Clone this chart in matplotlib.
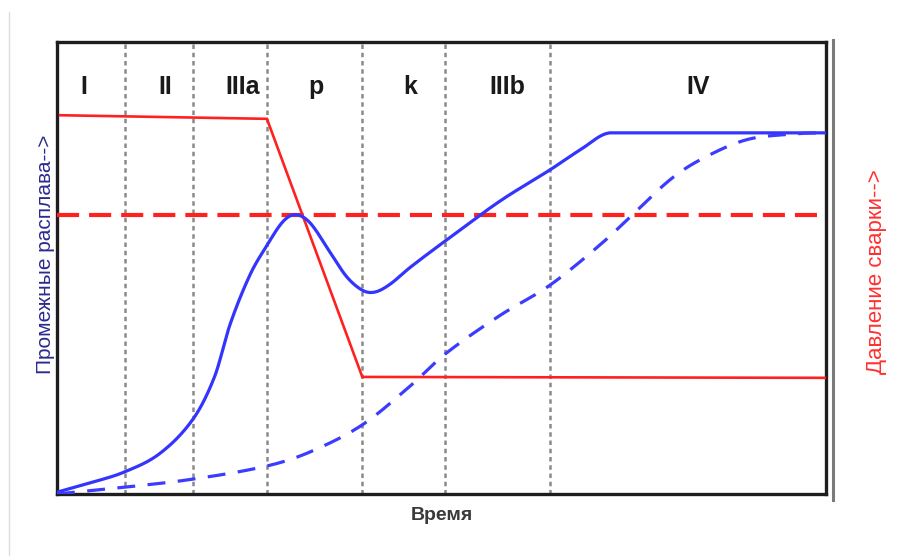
import matplotlib
matplotlib.use("Agg")
import matplotlib.pyplot as plt
from matplotlib.lines import Line2D
import numpy as np

# Phase boundaries (time units, 0..100)
boundaries = [8.8, 17.7, 27.3, 39.7, 50.5, 64.1]
phase_labels = ["I", "II", "IIIa", "p", "k", "IIIb", "IV"]
phase_label_x = [3.5, 14.1, 24.2, 33.7, 45.9, 58.5, 83.4]

# Welding pressure (solid red)
press_t = [0.4, 27.3, 39.7, 100]
press_v = [83.8, 83.0, 25.9, 25.7]
# Nominal pressure (dashed red)
nominal_v = 61.7

# Melt (solid blue): rising part, then plateau
melt_t = [0, 4.4, 8.8, 13.4, 17.7, 20.5, 22.5, 25.1, 27.3, 29.4, 31.0, 32.9, 35.5, 37.7,
          39.8, 41.4, 43.3, 45.9, 50.5, 57.6, 64.1, 68.0, 71.9]
melt_v = [0.4, 2.5, 4.9, 9.0, 16.6, 26.0, 37.5, 48.5, 55.0, 60.3, 61.8, 60.0, 53.5, 48.0,
          45.0, 44.7, 46.4, 50.1, 56.0, 64.8, 71.7, 76.1, 79.9]
melt_plateau_t = [71.9, 100]
melt_plateau_v = [79.9, 79.9]

# Displacement (dashed blue)
disp_t = [0, 8.8, 17.7, 27.3, 32.9, 39.7, 46.0, 50.5, 57.6, 64.1, 70.6, 74.8, 79.7, 83.6,
          89.5, 95.3, 100]
disp_v = [0, 1.5, 3.3, 6.2, 9.3, 15.3, 24.0, 31.0, 39.5, 46.2, 55.1, 61.7, 69.5, 73.9,
          78.3, 79.6, 79.9]

W, H = 903, 556
fig = plt.figure(figsize=(W / 100, H / 100), dpi=100)
fig.patch.set_facecolor("white")
ax = fig.add_axes([57 / W, 1 - 494 / H, (826 - 57) / W, (494 - 42) / H])
ax.set_xlim(0, 100)
ax.set_ylim(0, 100)

for b in boundaries:
    ax.axvline(b, color="#8a8a8a", lw=1.8, ls=(0, (1.8, 1.5)), zorder=1)

for lbl, x in zip(phase_labels, phase_label_x):
    ax.text(x, 90.0, lbl, ha="center", va="center", fontsize=18,
            fontweight="bold", color="#1a1a1a", family="Liberation Sans")


def smooth(tx, vy, end_slope=None, per_seg=40):
    """Cubic Hermite through the points with finite-difference tangents."""
    tx = np.asarray(tx, float)
    vy = np.asarray(vy, float)
    n = len(tx)
    m = np.zeros(n)
    for i in range(1, n - 1):
        m[i] = (vy[i + 1] - vy[i - 1]) / (tx[i + 1] - tx[i - 1])
    m[0] = (vy[1] - vy[0]) / (tx[1] - tx[0])
    m[-1] = (vy[-1] - vy[-2]) / (tx[-1] - tx[-2]) if end_slope is None else end_slope
    xs, ys = [], []
    for i in range(n - 1):
        h = tx[i + 1] - tx[i]
        s = np.linspace(0, 1, per_seg, endpoint=(i == n - 2))
        h00 = 2 * s**3 - 3 * s**2 + 1
        h10 = s**3 - 2 * s**2 + s
        h01 = -2 * s**3 + 3 * s**2
        h11 = s**3 - s**2
        xs.append(tx[i] + s * h)
        ys.append(h00 * vy[i] + h10 * h * m[i] + h01 * vy[i + 1] + h11 * h * m[i + 1])
    return np.concatenate(xs), np.concatenate(ys)


ax.plot(press_t, press_v, color="#ff2020", lw=1.9, zorder=3, solid_joinstyle="miter")
ax.axhline(nominal_v, color="#ff2020", lw=3.0, ls=(0, (5.3, 2.4)), zorder=3)

mt, mv = smooth(melt_t, melt_v, end_slope=0.15)
mt = np.concatenate([mt, melt_plateau_t[1:]])
mv = np.concatenate([mv, melt_plateau_v[1:]])
ax.plot(mt, mv, color="#3434ff", lw=2.3, zorder=4)
dt, dv = smooth(disp_t, disp_v, end_slope=0.0)
ax.plot(dt, dv, color="#3c3cff", lw=2.3, ls=(0, (5.6, 3.9)), zorder=4)

ax.set_xticks([])
ax.set_yticks([])
for s in ax.spines.values():
    s.set_color("#1e1e1e")
    s.set_linewidth(2.4)

ax.set_xlabel("Время", fontsize=14, fontweight="bold", color="#3a3a3a",
              family="Liberation Sans", labelpad=9)
fig.text(46 / W, 1 - 254 / H, "Промежные расплава-->", rotation=90, ha="center",
         va="center", fontsize=15, color="#2a2a90", family="Liberation Sans")
fig.text(877 / W, 1 - 272 / H, "Давление сварки-->", rotation=90, ha="center",
         va="center", fontsize=16, color="#ff3030", family="Liberation Sans")

# Extra frame line on the right and the page edge line
fig.add_artist(Line2D([833 / W, 833 / W], [1 - 500 / H, 1 - 40 / H],
                      color="#7a7a7a", lw=2.2))
fig.add_artist(Line2D([9.5 / W, 9.5 / W], [0, 1 - 12 / H],
                      color="#dddddd", lw=1.0))

fig.savefig("out.png", dpi=100, facecolor="white")
